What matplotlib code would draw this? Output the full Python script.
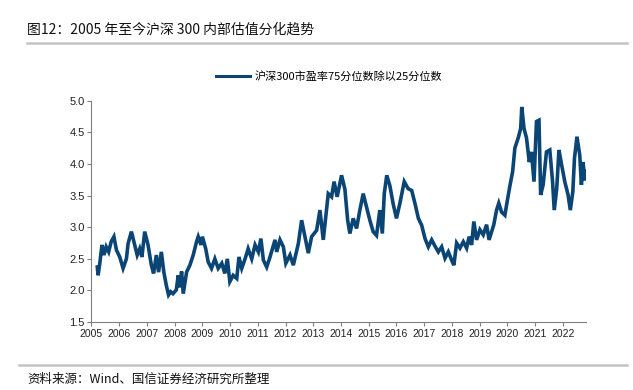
import matplotlib
matplotlib.use('Agg')
import matplotlib.pyplot as plt
from matplotlib.lines import Line2D

plt.rcParams['font.family'] = ['Noto Sans CJK SC', 'DejaVu Sans']

# (decimal year, ratio)
years = [
    2005.21, 2005.24, 2005.30, 2005.38, 2005.45, 2005.53, 2005.62, 2005.71, 2005.81, 2005.90,
    2006.02, 2006.14, 2006.26, 2006.32, 2006.44, 2006.56, 2006.65, 2006.74, 2006.82, 2006.92,
    2007.04, 2007.16, 2007.24, 2007.34, 2007.42, 2007.52, 2007.61, 2007.70, 2007.78, 2007.86,
    2007.94, 2008.06, 2008.13, 2008.19, 2008.25, 2008.31, 2008.43, 2008.55, 2008.67, 2008.79,
    2008.85, 2008.95, 2009.00, 2009.12, 2009.21, 2009.33, 2009.45, 2009.57, 2009.70, 2009.81,
    2009.90, 2009.99, 2010.11, 2010.24, 2010.32, 2010.42, 2010.54, 2010.65, 2010.78, 2010.90,
    2011.02, 2011.11, 2011.20, 2011.32, 2011.44, 2011.62, 2011.68, 2011.80, 2011.92, 2012.01,
    2012.16, 2012.28, 2012.46, 2012.58, 2012.70, 2012.82, 2012.94, 2013.12, 2013.24, 2013.36,
    2013.54, 2013.66, 2013.75, 2013.86, 2014.02, 2014.14, 2014.24, 2014.32, 2014.44, 2014.56,
    2014.68, 2014.80, 2014.92, 2015.04, 2015.16, 2015.28, 2015.40, 2015.49, 2015.56, 2015.65,
    2015.76, 2015.88, 2016.00, 2016.12, 2016.28, 2016.42, 2016.55, 2016.67, 2016.79, 2016.91,
    2017.03, 2017.15, 2017.27, 2017.39, 2017.51, 2017.63, 2017.75, 2017.87, 2017.99, 2018.07,
    2018.17, 2018.29, 2018.41, 2018.53, 2018.62, 2018.71, 2018.79, 2018.89, 2019.01, 2019.13,
    2019.25, 2019.34, 2019.43, 2019.51, 2019.61, 2019.69, 2019.79, 2019.91, 2019.99, 2020.09,
    2020.19, 2020.27, 2020.39, 2020.48, 2020.52, 2020.60, 2020.69, 2020.79, 2020.87, 2020.96,
    2021.05, 2021.14, 2021.20, 2021.29, 2021.41, 2021.53, 2021.63, 2021.69, 2021.78, 2021.86,
    2021.95, 2022.07, 2022.19, 2022.27, 2022.36, 2022.42, 2022.51, 2022.61, 2022.67, 2022.73,
    2022.79, 2022.83,
]
ratio = [
    2.37, 2.24, 2.43, 2.72, 2.56, 2.69, 2.61, 2.77, 2.85, 2.64,
    2.53, 2.35, 2.50, 2.74, 2.93, 2.72, 2.56, 2.66, 2.53, 2.93,
    2.72, 2.40, 2.27, 2.56, 2.29, 2.61, 2.29, 2.08, 1.93, 1.98,
    1.95, 2.01, 2.24, 2.05, 2.30, 1.95, 2.29, 2.40, 2.56, 2.77,
    2.85, 2.72, 2.85, 2.66, 2.45, 2.35, 2.50, 2.35, 2.43, 2.27,
    2.50, 2.14, 2.24, 2.19, 2.53, 2.35, 2.50, 2.66, 2.50, 2.72,
    2.61, 2.82, 2.48, 2.37, 2.53, 2.80, 2.61, 2.80, 2.69, 2.43,
    2.56, 2.40, 2.74, 3.11, 2.85, 2.59, 2.85, 2.95, 3.27, 2.80,
    3.53, 3.48, 3.72, 3.48, 3.82, 3.60, 3.11, 2.90, 3.14, 2.98,
    3.27, 3.53, 3.32, 3.11, 2.93, 2.87, 3.27, 2.90, 3.53, 3.82,
    3.66, 3.37, 3.14, 3.37, 3.72, 3.61, 3.58, 3.37, 3.14, 3.03,
    2.82, 2.69, 2.80, 2.70, 2.61, 2.69, 2.51, 2.61, 2.48, 2.40,
    2.75, 2.67, 2.77, 2.67, 2.85, 2.72, 3.09, 2.80, 2.96, 2.88,
    3.04, 2.80, 2.93, 3.04, 3.27, 3.38, 3.24, 3.19, 3.40, 3.65,
    3.88, 4.25, 4.41, 4.56, 4.90, 4.56, 4.41, 4.03, 4.19, 3.72,
    4.67, 4.69, 3.51, 3.67, 4.19, 4.22, 3.72, 3.27, 3.61, 4.22,
    4.00, 3.72, 3.51, 3.27, 3.56, 4.09, 4.43, 4.14, 3.67, 4.03,
    3.74, 3.88,
]
tick_years = list(range(2005, 2023))
y_ticks = [1.5, 2.0, 2.5, 3.0, 3.5, 4.0, 4.5, 5.0]

title = '图12：2005 年至今沪深 300 内部估值分化趋势'
series_name = '沪深300市盈率75分位数除以25分位数'
source = '资料来源：Wind、国信证券经济研究所整理'

line_color = '#0b4576'
axis_color = '#808080'

fig = plt.figure(figsize=(6.33, 3.90), dpi=100)
ax = fig.add_axes([0.1445, 0.174, 0.781, 0.568])

ax.plot(years, ratio, color=line_color, lw=2.6, solid_joinstyle='miter')

ax.set_xlim(2005, 2022.83)
ax.set_ylim(1.5, 5.0)
ax.set_xticks(tick_years)
ax.set_xticklabels([str(y) for y in tick_years], fontsize=7.5, family='Liberation Sans')
ax.set_yticks(y_ticks)
ax.set_yticklabels([f'{v:.1f}' for v in y_ticks], fontsize=8, family='Liberation Sans')
for side in ['top', 'right']:
    ax.spines[side].set_visible(False)
for side in ['left', 'bottom']:
    ax.spines[side].set_color(axis_color)
    ax.spines[side].set_linewidth(0.8)
ax.tick_params(axis='both', direction='out', length=3, width=0.8, color=axis_color,
               labelcolor='#222222', pad=2)

handle = Line2D([0], [0], color=line_color, lw=2.2)
fig.legend([handle], [series_name], loc='center', bbox_to_anchor=(0.52, 0.805),
           frameon=False, fontsize=8, handlelength=3.0, handletextpad=0.4)

# header / footer
fig.text(0.043, 0.923, title, fontsize=10, va='center', ha='left', color='#111111')
fig.add_artist(Line2D([0.043, 0.99], [0.889, 0.889], color='#c4c4c4', lw=1.8))
fig.add_artist(Line2D([0.03, 0.99], [0.064, 0.064], color='#c4c4c4', lw=1.8))
fig.text(0.043, 0.027, source, fontsize=9, va='center', ha='left', color='#111111')

fig.savefig('out.png', dpi=100)
